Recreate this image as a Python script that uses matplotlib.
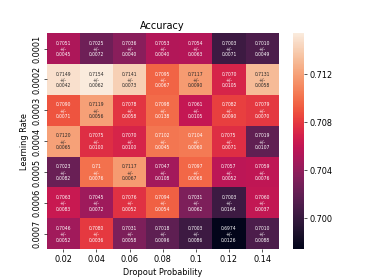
import numpy as np
import matplotlib
matplotlib.use('Agg')
import matplotlib.pyplot as plt
import seaborn as sns

dropout = ['0.02', '0.04', '0.06', '0.08', '0.1', '0.12', '0.14']
learning_rate = ['0.0001', '0.0002', '0.0003', '0.0004', '0.0005', '0.0006', '0.0007']
cbar_ticks = [0.700, 0.704, 0.708, 0.712]

acc_mean = [
    [0.7051, 0.7025, 0.7036, 0.7053, 0.7054, 0.7003, 0.7010],
    [0.7149, 0.7154, 0.7141, 0.7095, 0.7117, 0.7070, 0.7131],
    [0.7090, 0.7119, 0.7078, 0.7098, 0.7061, 0.7082, 0.7079],
    [0.7120, 0.7075, 0.7070, 0.7102, 0.7104, 0.7075, 0.7019],
    [0.7023, 0.71, 0.7117, 0.7047, 0.7097, 0.7057, 0.7059],
    [0.7063, 0.7045, 0.7076, 0.7094, 0.7031, 0.7003, 0.7060],
    [0.7046, 0.7080, 0.7031, 0.7018, 0.7003, 0.6974, 0.7010],
]
acc_std = [
    [0.0045, 0.0072, 0.0040, 0.0040, 0.0063, 0.0071, 0.0049],
    [0.0042, 0.0062, 0.0073, 0.0067, 0.0090, 0.0105, 0.0058],
    [0.0071, 0.0056, 0.0058, 0.0138, 0.0105, 0.0090, 0.0070],
    [0.0065, 0.0100, 0.0100, 0.0045, 0.0060, 0.0071, 0.0107],
    [0.0082, 0.0076, 0.0067, 0.0108, 0.0068, 0.0052, 0.0076],
    [0.0083, 0.0072, 0.0052, 0.0054, 0.0062, 0.0164, 0.0037],
    [0.0052, 0.0036, 0.0058, 0.0096, 0.0086, 0.0126, 0.0088],
]


def fmt(v):
    # the source printed 0.71 without trailing zeros
    if v == 0.71:
        return '0.71'
    return '%.4f' % v


def main():
    mean = np.array(acc_mean)
    labels = np.array([[fmt(m) + '\n+/-\n' + '%.4f' % s
                        for m, s in zip(mr, sr)] for mr, sr in zip(acc_mean, acc_std)])

    fig, ax = plt.subplots(figsize=(6.4, 4.8), dpi=374 / 6.4)
    sns.heatmap(mean, annot=labels, fmt='', annot_kws={'size': 5.6},
                xticklabels=dropout, yticklabels=learning_rate, ax=ax,
                cbar_kws={'ticks': cbar_ticks, 'format': '%.3f'})
    ax.set_xlabel('Dropout Probability')
    ax.set_ylabel('Learning Rate')
    ax.set_title('Accuracy')
    fig.savefig('out.png', dpi=374 / 6.4)


if __name__ == '__main__':
    main()
